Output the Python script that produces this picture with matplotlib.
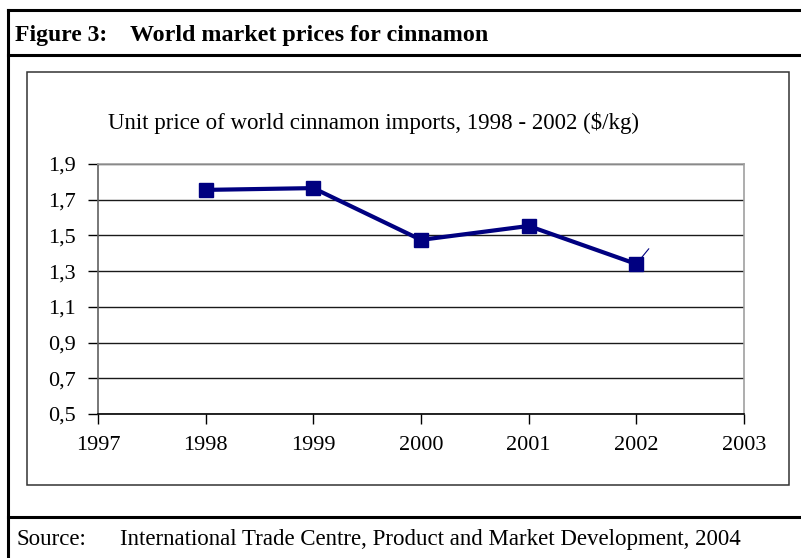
import numpy as np
import matplotlib.pyplot as plt
from matplotlib.lines import Line2D
from matplotlib.patches import Rectangle

plt.rcParams.update({
    "font.family": ["Liberation Serif", "DejaVu Serif"],
    "font.size": 16,
})

years = [1998, 1999, 2000, 2001, 2002]
prices = [1.755, 1.765, 1.475, 1.553, 1.34]
yticks = [0.5, 0.7, 0.9, 1.1, 1.3, 1.5, 1.7, 1.9]
xticks = [1997, 1998, 1999, 2000, 2001, 2002, 2003]

W, H = 801, 558
fig = plt.figure(figsize=(W / 100, H / 100), dpi=100)


def fx(px):
    return px / W


def fy(py):
    return 1 - py / H


# frame of the figure box
lw_thick = 2.2
for (x0, y0, x1, y1) in [(8, 10, 801, 10), (8, 55, 801, 55), (8, 517, 801, 517), (8, 10, 8, 558)]:
    fig.add_artist(Line2D([fx(x0), fx(x1)], [fy(y0), fy(y1)], color="black", lw=lw_thick,
                          transform=fig.transFigure))
fig.add_artist(Rectangle((fx(27), fy(485)), fx(789) - fx(27), fy(72) - fy(485), fill=False,
                         edgecolor="#333333", lw=1.1, transform=fig.transFigure))

fig.text(fx(15), fy(41), "Figure 3:", fontsize=17,
         fontweight="bold", va="baseline", ha="left")
fig.text(fx(130), fy(41), "World market prices for cinnamon", fontsize=17.3,
         fontweight="bold", va="baseline", ha="left")
fig.text(fx(17), fy(545), "Source:", fontsize=16.5, va="baseline", ha="left")
fig.text(fx(120), fy(545), "International Trade Centre, Product and Market Development, 2004",
         fontsize=16.5, va="baseline", ha="left")
fig.text(fx(108), fy(129), "Unit price of world cinnamon imports, 1998 - 2002 ($/kg)",
         fontsize=16.5, va="baseline", ha="left")

ax = fig.add_axes([fx(98), fy(414), fx(744) - fx(98), fy(164) - fy(414)])
ax.set_xlim(1997, 2003)
ax.set_ylim(0.5, 1.9)
ax.set_yticks(yticks)
ax.set_yticklabels([f"{v:.1f}".replace(".", ",") for v in yticks])
ax.set_xticks(xticks)
ax.set_xticklabels([str(x) for x in xticks])
ax.yaxis.grid(True, color="#1a1a1a", lw=1)
ax.set_axisbelow(True)
ax.tick_params(direction="out", length=7, width=1, color="black", labelsize=16)
ax.tick_params(axis="x", pad=9)
ax.tick_params(axis="y", pad=9)
ax.spines["top"].set_color("#a0a0a0")
ax.spines["right"].set_color("#a0a0a0")
ax.spines["left"].set_color("#606060")
ax.spines["bottom"].set_color("black")
for s in ax.spines.values():
    s.set_linewidth(1.2)

ax.plot(years, prices, color="#000080", lw=3, marker="s", markersize=10, clip_on=False)
ax.annotate("", xy=(years[-1], prices[-1]), xytext=(9, 11), textcoords="offset points",
            arrowprops=dict(arrowstyle="-", color="#000080", lw=0.8, shrinkA=0, shrinkB=5))

fig.savefig("out.png", dpi=100)
